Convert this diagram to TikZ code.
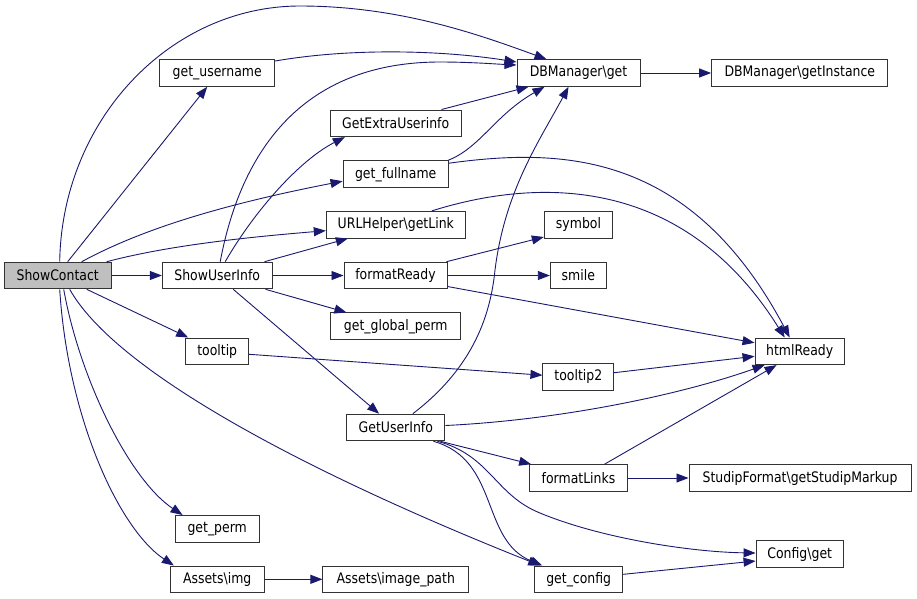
\documentclass[tikz,border=0pt]{standalone}
\usepackage{fontspec}
\setmainfont{DejaVu Sans}[FakeStretch=0.86]
\usetikzlibrary{arrows.meta,calc}
\definecolor{edgec}{HTML}{191970}
\definecolor{boxc}{HTML}{333333}
\definecolor{grayfill}{HTML}{BFBFBF}
\begin{document}
\begin{tikzpicture}[x=1pt,y=-1pt,
  box/.style={draw=boxc,line width=1pt,fill=white,minimum height=26.6pt,inner sep=0pt,
    font=\fontsize{14.5}{16}\selectfont,anchor=center},
  edge/.style={draw=edgec,line width=0.9pt,-{Triangle[length=12pt,width=9pt,fill=edgec]}}]
\fill[white] (0,0) rectangle (917,598);
\useasboundingbox (0,0) rectangle (917,598);
% nodes
\node[box,fill=grayfill,minimum width=106.7pt] (SC) at (57.7,275.5) {ShowContact};
\node[box,minimum width=115pt] (GU) at (217.2,73) {get\_username};
\node[box,minimum width=109.7pt] (SUI) at (217.2,275.5) {ShowUserInfo};
\node[box,minimum width=63pt] (TT) at (217.2,351.3) {tooltip};
\node[box,minimum width=84.3pt] (GP) at (217.2,528.8) {get\_perm};
\node[box,minimum width=93.7pt] (AI) at (217.2,579.3) {Assets\textbackslash img};
\node[box,minimum width=130.7pt] (GEU) at (395.7,123.3) {GetExtraUserinfo};
\node[box,minimum width=105.3pt] (GF) at (395.7,174.2) {get\_fullname};
\node[box,minimum width=139pt] (UL) at (395.8,224.7) {URLHelper\textbackslash getLink};
\node[box,minimum width=103pt] (FR) at (395.5,275.5) {formatReady};
\node[box,minimum width=129.7pt] (GGP) at (395.8,326.2) {get\_global\_perm};
\node[box,minimum width=98.3pt] (GUI) at (395.8,427.5) {GetUserInfo};
\node[box,minimum width=145.7pt] (AIP) at (395.8,579.3) {Assets\textbackslash image\_path};
\node[box,minimum width=123pt] (DBG) at (578.5,73) {DBManager\textbackslash get};
\node[box,minimum width=68.3pt] (SYM) at (578.5,224.7) {symbol};
\node[box,minimum width=56pt] (SM) at (578.3,275.5) {smile};
\node[box,minimum width=70.7pt] (TT2) at (578.3,376.7) {tooltip2};
\node[box,minimum width=97.7pt] (FL) at (578.5,478) {formatLinks};
\node[box,minimum width=88pt] (GC) at (578.7,579.3) {get\_config};
\node[box,minimum width=176.3pt] (DBI) at (799.8,73) {DBManager\textbackslash getInstance};
\node[box,minimum width=89.3pt] (HR) at (799.7,351.3) {htmlReady};
\node[box,minimum width=222pt] (SFM) at (800,478) {StudipFormat\textbackslash getStudipMarkup};
\node[box,minimum width=87.3pt] (CG) at (799.7,554) {Config\textbackslash get};
% edges
\draw[edge] ($(SC.north)+(2,0)$) .. controls (62,120) and (170,6) .. (300,6) .. controls (400,6) and (480,35) .. ($(DBG.north west)+(30,0)$);
\draw[edge] ($(SC.north)+(10,0)$) -- ($(GU.south)+(-10,0)$);
\draw[edge] ($(GU.east)+(0,-12)$) .. controls (350,48) and (440,50) .. ($(DBG.west)+(0,-11)$);
\draw[edge] ($(SUI.north)+(3,0)$) .. controls (245,130) and (320,62) .. (440,62) .. controls (470,62) and (495,64) .. ($(DBG.west)+(0,-8)$);
\draw[edge] ($(SUI.north)+(8,0)$) .. controls (255,210) and (300,160) .. ($(GEU.south west)+(15,0)$);
\draw[edge] ($(SUI.north east)+(-8,0)$) -- ($(UL.south west)+(22,0)$);
\draw[edge] (SUI.east) -- (FR.west);
\draw[edge] ($(SUI.south east)+(-7,0)$) -- ($(GGP.north west)+(16,0)$);
\draw[edge] ($(SUI.south)+(16,0)$) -- ($(GUI.north west)+(33,0)$);
\draw[edge] (SC.east) -- (SUI.west);
\draw[edge] ($(SC.north)+(24,0)$) .. controls (140,230) and (220,205) .. ($(GF.west)+(0,7)$);
\draw[edge] ($(SC.north)+(49,0)$) .. controls (170,245) and (250,237) .. ($(UL.west)+(0,6)$);
\draw[edge] ($(SC.south)+(29,0)$) -- ($(TT.north west)+(3,0)$);
\draw[edge] ($(SC.south)+(12,0)$) .. controls (115,370) and (300,470) .. ($(GC.north west)+(6,0)$);
\draw[edge] ($(SC.south)+(6,0)$) .. controls (80,380) and (130,480) .. ($(GP.north west)+(8,0)$);
\draw[edge] ($(SC.south)+(2,0)$) .. controls (68,420) and (120,530) .. ($(AI.north west)+(4,0)$);
\draw[edge] (AI.east) -- (AIP.west);
\draw[edge] ($(TT.east)+(0,3)$) -- ($(TT2.west)+(0,-1.5)$);
\draw[edge] ($(TT2.east)+(0,-4)$) -- ($(HR.west)+(0,5)$);
\draw[edge] ($(FR.north east)+(-1,0)$) -- ($(SYM.south west)+(0,-1.5)$);
\draw[edge] (FR.east) -- (SM.west);
\draw[edge] ($(FR.east)+(0,11)$) -- ($(HR.west)+(0,-8.5)$);
\draw[edge] ($(GF.north east)+(-1,0)$) .. controls (480,148) and (495,115) .. ($(DBG.south west)+(28,0)$);
\draw[edge] ($(GEU.north east)+(-20,0)$) -- ($(DBG.south west)+(12,0)$);
\draw[edge] (DBG.east) -- (DBI.west);
\draw[edge] ($(GF.east)+(0,-11)$) .. controls (560,148) and (690,150) .. ($(HR.north)+(-10,0)$);
\draw[edge] ($(UL.north east)+(-34,0)$) .. controls (530,180) and (680,170) .. ($(HR.north)+(-15,0)$);
\draw[edge] ($(GUI.north)+(17,0)$) .. controls (470,370) and (490,320) .. (495,270) .. controls (505,190) and (540,140) .. ($(DBG.south)+(-10,0)$);
\draw[edge] ($(GUI.east)+(0,-2)$) .. controls (560,420) and (680,395) .. ($(HR.south west)+(10,0)$);
\draw[edge] ($(FL.north)+(26,0)$) -- ($(HR.south west)+(22,0)$);
\draw[edge] ($(GUI.south east)+(-5,0)$) -- ($(FL.north west)+(2,0)$);
\draw[edge] (FL.east) -- (SFM.west);
\draw[edge] ($(GUI.south east)+(-12,0)$) .. controls (500,460) and (480,540) .. ($(GC.north west)+(8,0)$);
\draw[edge] ($(GUI.south east)+(-8,0)$) .. controls (490,455) and (495,495) .. (540,513) .. controls (600,538) and (690,552) .. ($(CG.west)+(0,-1)$);
\draw[edge] ($(GC.east)+(0,-5)$) -- ($(CG.west)+(0,7)$);
\end{tikzpicture}
\end{document}
